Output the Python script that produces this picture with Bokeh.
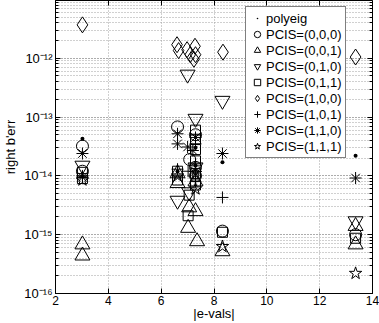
from bokeh.plotting import figure
from bokeh.models import (Range1d, FixedTicker, LogTicker, LinearAxis, LogAxis,
                          CustomJSTickFormatter, Legend, LegendItem, ColumnDataSource)
from bokeh.embed import file_html
from bokeh.resources import INLINE

# ---------------- data ----------------
x_ticks = [2, 4, 6, 8, 10, 12, 14]

polyeig_x = [3.02, 3.02, 6.62, 7.30, 7.30, 8.32, 13.36]
polyeig_y = [4.3e-14, 1.0e-14, 1.2e-14, 3.0e-14, 1.5e-14, 1.7e-14, 2.2e-14]

pcis000_x = [3.02, 3.02, 6.62, 7.08, 7.30, 7.30, 7.30, 8.32, 13.36]
pcis000_y = [3.2e-14, 1.2e-14, 6.8e-14, 1.9e-14, 5.0e-14, 1.4e-14, 1.0e-14, 1.15e-15, 1.0e-15]

pcis001_x = [3.02, 3.02, 6.62, 6.62, 7.06, 7.02, 7.30, 7.36, 7.30, 8.32, 13.36, 13.36]
pcis001_y = [6.8e-16, 4.4e-16, 7.5e-15, 1.1e-14, 2.9e-15, 1.3e-15, 2.5e-15, 7.7e-16, 8.0e-15, 5.2e-16, 6.8e-16, 1.4e-15]

pcis010_x = [3.02, 6.62, 7.00, 7.06, 7.30, 7.30, 8.32, 13.36]
pcis010_y = [1.5e-14, 3.8e-15, 5.3e-13, 5.3e-15, 9.4e-14, 1.4e-14, 1.9e-13, 1.7e-15]

pcis011_x = [3.02, 3.02, 6.62, 6.62, 7.06, 7.02, 7.30, 7.30, 7.30, 7.30, 7.30, 7.30, 8.32, 13.36]
pcis011_y = [1.15e-14, 9.0e-15, 1.2e-14, 8.5e-15, 4.7e-15, 2.1e-15, 6.0e-14, 4.2e-14, 2.8e-14, 1.8e-14, 1.1e-14, 7.0e-15, 1.1e-15, 8.7e-16]

pcis100_x = [3.02, 6.60, 6.66, 6.98, 7.10, 7.28, 7.30, 7.24, 8.34, 13.36]
pcis100_y = [3.7e-12, 1.7e-12, 1.35e-12, 1.4e-12, 1.15e-12, 1.6e-12, 1.15e-12, 9.6e-13, 1.27e-12, 1.05e-12]

pcis101_x = [3.02, 6.62, 7.02, 7.30, 7.30, 7.30, 8.32]
pcis101_y = [1.0e-14, 1.3e-14, 1.2e-14, 3.5e-14, 1.6e-14, 8.0e-15, 4.3e-15]

pcis110_x = [3.02, 3.02, 6.62, 6.62, 7.00, 7.20, 7.30, 7.30, 8.32, 13.36]
pcis110_y = [2.4e-14, 9.5e-15, 5.2e-14, 3.5e-14, 3.1e-14, 2.7e-14, 4.5e-14, 1.2e-14, 2.4e-14, 9.2e-15]

pcis111_x = [3.02, 6.62, 7.30, 7.30, 8.32, 13.36]
pcis111_y = [8.5e-15, 1.0e-14, 1.1e-14, 6.0e-15, 6.3e-16, 2.2e-16]

labels = ["polyeig", "PCIS=(0,0,0)", "PCIS=(0,0,1)", "PCIS=(0,1,0)", "PCIS=(0,1,1)",
          "PCIS=(1,0,0)", "PCIS=(1,0,1)", "PCIS=(1,1,0)", "PCIS=(1,1,1)"]

FONT = "Liberation Sans"

p = figure(width=379, height=323, x_range=Range1d(2, 14), y_range=Range1d(1e-16, 9.6e-12),
           y_axis_type="log", output_backend="svg", toolbar_location=None,
           min_border_left=52, min_border_right=7, min_border_top=0, min_border_bottom=27)
p.outline_line_color = "black"
p.outline_line_width = 1
p.background_fill_color = "white"
p.border_fill_color = "white"

# axes
p.xaxis.ticker = FixedTicker(ticks=x_ticks, minor_ticks=[])
p.yaxis.ticker = LogTicker(num_minor_ticks=10)
p.yaxis.formatter = CustomJSTickFormatter(code="""
const e = Math.round(Math.log10(tick));
const sup = {'-':'⁻','0':'⁰','1':'¹','2':'²','3':'³','4':'⁴','5':'⁵','6':'⁶','7':'⁷','8':'⁸','9':'⁹'};
return '10' + String(e).split('').map(c => sup[c]).join('');
""")
p.xaxis.axis_label = "|e-vals|"
p.yaxis.axis_label = "right b'err"
for ax in (p.xaxis, p.yaxis):
    ax.axis_label_text_font = FONT
    ax.axis_label_text_font_size = "13px"
    ax.axis_label_text_font_style = "normal"
    ax.major_label_text_font = FONT
    ax.major_label_text_font_size = "12px"
    ax.major_tick_in = 5
    ax.major_tick_out = 0
    ax.minor_tick_in = 3
    ax.minor_tick_out = 0
    ax.axis_line_color = "black"
    ax.major_tick_line_color = "black"
    ax.minor_tick_line_color = "black"
    ax.major_label_text_color = "black"
    ax.axis_label_text_color = "black"
p.yaxis.major_label_text_font_size = "13px"
p.xaxis.major_label_standoff = 2
p.xaxis.axis_label_standoff = -2
p.yaxis.major_label_standoff = 3
p.yaxis.axis_label_standoff = 3

# box ticks on top and right (no labels)
top_ax = LinearAxis(ticker=FixedTicker(ticks=x_ticks, minor_ticks=[]),
                    major_label_text_font_size="1px", major_label_text_color=None,
                    major_label_standoff=0,
                    major_tick_in=5, major_tick_out=0, axis_line_color=None)
right_ax = LogAxis(ticker=LogTicker(num_minor_ticks=10),
                   major_label_text_font_size="1px", major_label_text_color=None,
                   major_label_standoff=0,
                   major_tick_in=5, major_tick_out=0, minor_tick_in=3, minor_tick_out=0,
                   axis_line_color=None)
p.add_layout(top_ax, "above")
p.add_layout(right_ax, "right")

# grids
for g in (p.xgrid, p.ygrid):
    g.grid_line_color = "#a0a0a0"
    g.grid_line_dash = "1 2"
    g.grid_line_width = 1
p.ygrid.minor_grid_line_color = "#a0a0a0"
p.ygrid.minor_grid_line_dash = "1 2"
p.ygrid.minor_grid_line_width = 1

# series
series = [
    (polyeig_x, polyeig_y, "dot", 16, "black"),
    (pcis000_x, pcis000_y, "circle", 12, None),
    (pcis001_x, pcis001_y, "triangle", 15, None),
    (pcis010_x, pcis010_y, "inverted_triangle", 15, None),
    (pcis011_x, pcis011_y, "square", 10, None),
    (pcis100_x, pcis100_y, "diamond", 16, None),
    (pcis101_x, pcis101_y, "cross", 12, None),
    (pcis110_x, pcis110_y, "asterisk", 12, None),
    (pcis111_x, pcis111_y, "star", 13, None),
]
items = []
for (xs, ys, marker, size, fill), lab in zip(series, labels):
    src = ColumnDataSource(data=dict(x=xs, y=ys))
    r = p.scatter("x", "y", source=src, marker=marker, size=size,
                  line_color="black", line_width=1, fill_color=fill)
    items.append(LegendItem(label=lab, renderers=[r]))

legend = Legend(items=items, location=(190, 135), margin=0, padding=3,
                spacing=0, label_height=16, glyph_height=16, glyph_width=16,
                label_standoff=1, label_text_font=FONT, label_text_font_size="13px",
                label_text_color="black",
                border_line_color="black", border_line_width=1,
                background_fill_color="white", background_fill_alpha=1.0)
p.add_layout(legend, "center")

open("out.html", "w").write(file_html(p, INLINE))
